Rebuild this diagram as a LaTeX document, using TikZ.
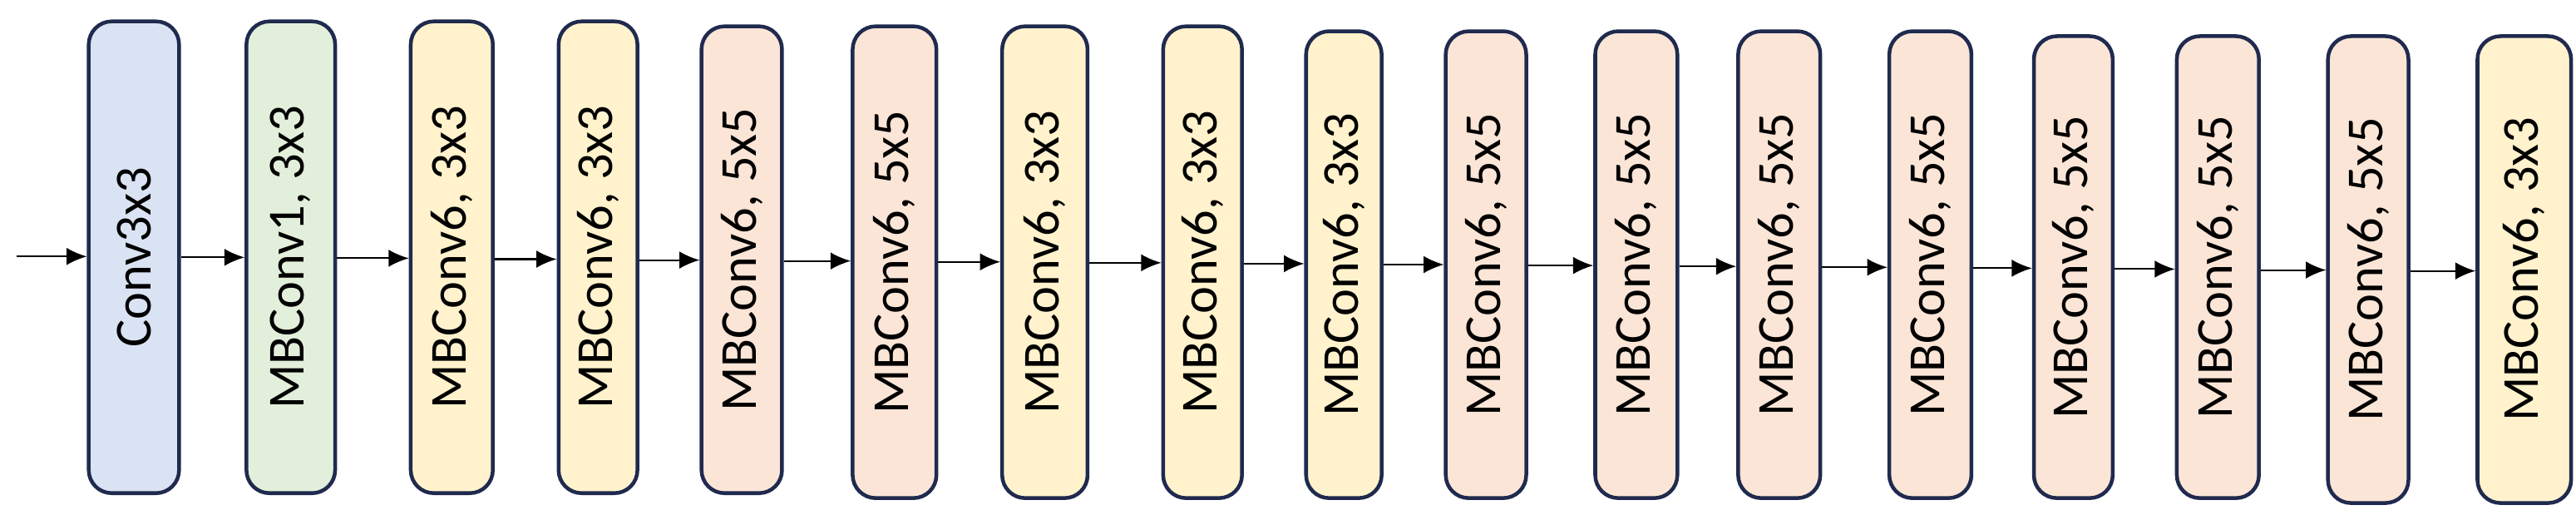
\documentclass[tikz,border=0pt]{standalone}
\usepackage{fontspec}
\setmainfont{Carlito}
\usetikzlibrary{arrows.meta}
\definecolor{cblue}{HTML}{DAE3F3}
\definecolor{cgreen}{HTML}{E2EFDA}
\definecolor{cyel}{HTML}{FFF2CC}
\definecolor{cpink}{HTML}{FBE5D6}
\definecolor{edge}{HTML}{1F2A4E}
\begin{document}
\begin{tikzpicture}[x=0.02cm,y=-0.02cm,
  blk/.style={draw=edge,line width=1.3pt,rounded corners=8pt,inner sep=0pt,font=\fontsize{18}{20}\selectfont},
  conn/.style={-{Latex[length=7pt,width=6pt]},line width=0.6pt}]
\useasboundingbox (0,0) rectangle (1568,316);
\foreach \n/\l/\r/\t/\b/\c/\txt in {
 1/54/109/13/300/cblue/Conv3x3,
 2/150/204/13/300/cgreen/{MBConv1, 3x3},
 3/250/300/13/300/cyel/{MBConv6, 3x3},
 4/340/388/13/300/cyel/{MBConv6, 3x3},
 5/427/476/16/300/cpink/{MBConv6, 5x5},
 6/519/570/16/303/cpink/{MBConv6, 5x5},
 7/610/662/16/303/cyel/{MBConv6, 3x3},
 8/708/756/16/303/cyel/{MBConv6, 3x3},
 9/795/841/19/303/cyel/{MBConv6, 3x3},
 10/880/929/19/303/cpink/{MBConv6, 5x5},
 11/971/1021/19/303/cpink/{MBConv6, 5x5},
 12/1058/1108/19/303/cpink/{MBConv6, 5x5},
 13/1150/1200/19/303/cpink/{MBConv6, 5x5},
 14/1238/1286/22/303/cpink/{MBConv6, 5x5},
 15/1325/1375/22/303/cpink/{MBConv6, 5x5},
 16/1417/1466/22/306/cpink/{MBConv6, 5x5},
 17/1508/1565/22/306/cyel/{MBConv6, 3x3}}{
  \node[blk,fill=\c,minimum width={(\r-\l)*0.02cm},minimum height={(\b-\t)*0.02cm}]
    (b\n) at ({(\l+\r)/2},{(\t+\b)/2}) {\rotatebox{90}{\txt}};
}
\coordinate (in) at (10,156);
\draw[conn] (in) -- (b1.west |- in);
\foreach \i [evaluate=\i as \j using int(\i+1), evaluate=\i as \y using 156+\i*0.55] in {1,...,16}{
  \draw[conn] (b\i.east |- 0,\y) -- (b\j.west |- 0,\y);
}
\end{tikzpicture}
\end{document}
